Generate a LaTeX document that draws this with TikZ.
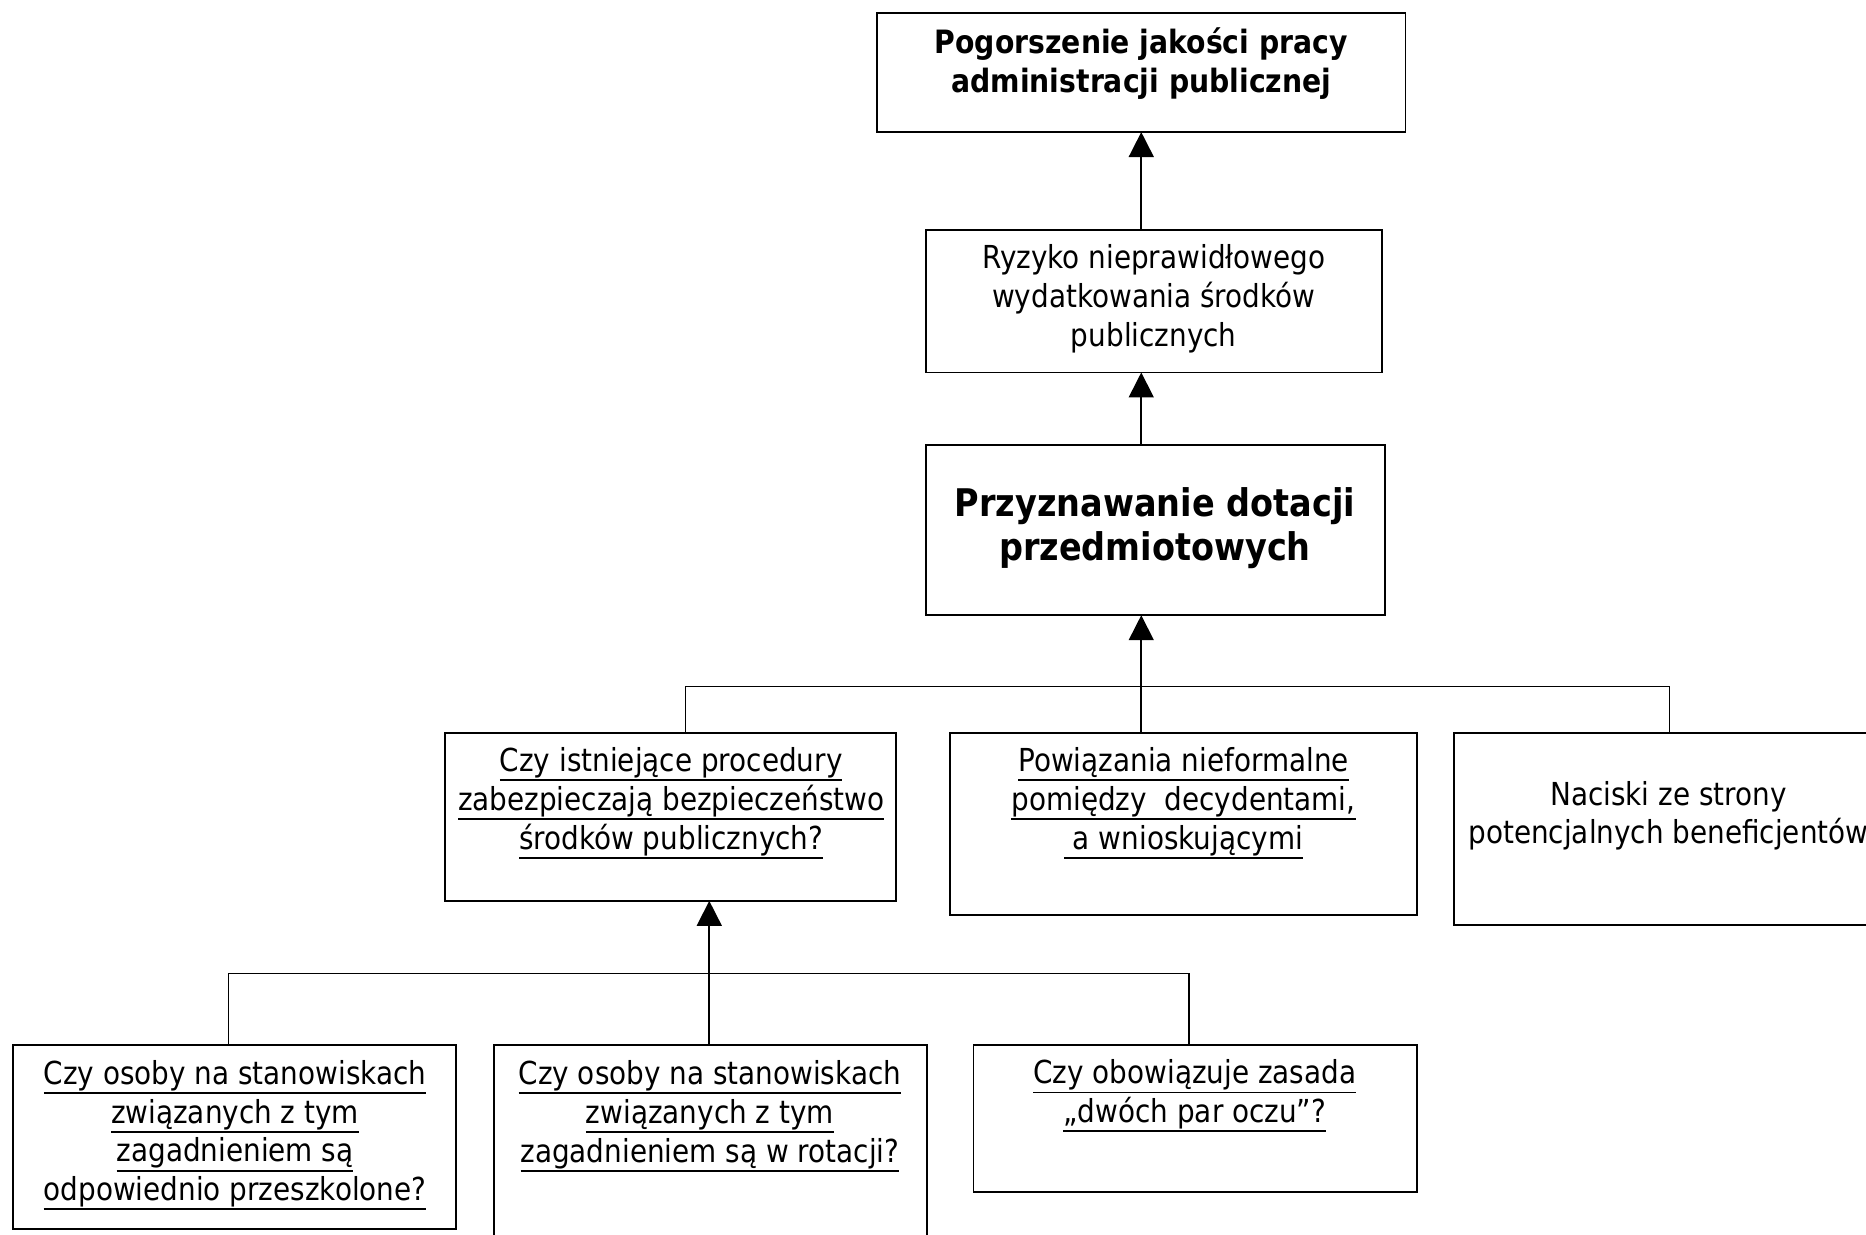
\documentclass[tikz,border=0pt]{standalone}
\usepackage{fontspec}
\setmainfont{DejaVu Sans}[FakeStretch=0.88]
\usetikzlibrary{arrows.meta}
\newcommand{\ulx}[1]{\setbox0\hbox{#1}\rlap{\rule[-4pt]{\wd0}{0.8pt}}\box0}
\begin{document}
\begin{tikzpicture}[x=0.5pt,y=-0.5pt,
  box/.style={draw, line width=0.8pt, rectangle, inner sep=0pt, outer sep=0pt},
  txt/.style={align=center, inner sep=0pt, font=\fontsize{13.3}{16.3}\selectfont},
  conn/.style={line width=0.7pt},
  arr/.style={conn, -{Triangle[length=10.5pt,width=10.5pt]}}]
\useasboundingbox (0,0) rectangle (1568,1037);
\fill[white] (0,0) rectangle (1568,1037);
\clip (0,0) rectangle (1568,1037);
% boxes
\node[box, minimum width=222pt, minimum height=50pt] (A) at (959,61) {};
\node[box, minimum width=191.5pt, minimum height=60pt] (B) at (969.5,253) {};
\node[box, minimum width=193pt, minimum height=71.5pt] (C) at (971,445.5) {};
\node[box, minimum width=189.5pt, minimum height=70.5pt] (D) at (563.5,686.5) {};
\node[box, minimum width=196.5pt, minimum height=76.5pt] (E) at (994.5,692.5) {};
\node[box, minimum width=180pt, minimum height=80.5pt] (F) at (1402,696.5) {};
\node[box, minimum width=186pt, minimum height=77.5pt] (G) at (197,955.5) {};
\node[box, minimum width=182pt, minimum height=91pt] (H) at (597,969) {};
\node[box, minimum width=186.5pt, minimum height=62pt] (I) at (1004.5,940) {};
% texts
\node[txt, font=\fontsize{13.5}{16.5}\selectfont\bfseries] (At) at (959,53.5) {Pogorszenie jakości pracy\\administracji publicznej};
\node[txt] (Bt) at (969.5,251) {Ryzyko nieprawidłowego\\wydatkowania środków\\publicznych};
\node[txt, font=\fontsize{16}{18.5}\selectfont\bfseries] (Ct) at (970.5,443.5) {Przyznawanie dotacji\\przedmiotowych};
\node[txt] (Dt) at (564,675) {\ulx{Czy istniejące procedury}\\\ulx{zabezpieczają bezpieczeństwo}\\\ulx{środków publicznych?}};
\node[txt] (Et) at (994.5,675) {\ulx{Powiązania nieformalne}\\\ulx{pomiędzy\ \ decydentami,}\\\ulx{\ a wnioskującymi}};
\node[txt] (Ft) at (1402,685.5) {Naciski ze strony\\potencjalnych beneficjentów};
\node[txt] (Gt) at (197.5,954) {\ulx{Czy osoby na stanowiskach}\\\ulx{związanych z tym}\\\ulx{zagadnieniem są}\\\ulx{odpowiednio przeszkolone?}};
\node[txt] (Ht) at (596.5,938) {\ulx{Czy osoby na stanowiskach}\\\ulx{związanych z tym}\\\ulx{zagadnieniem są w rotacji?}};
\node[txt] (It) at (1004,921) {\ulx{Czy obowiązuje zasada}\\\ulx{„dwóch par oczu”?}};
% bus coordinates
\coordinate (bD) at (576,577);
\coordinate (bE) at (959,577);
\coordinate (bF) at (1403,577);
\coordinate (bG) at (192,818);
\coordinate (bH) at (596,818);
\coordinate (bI) at (999,818);
% connectors
\draw[arr] (B.north -| A.south) -- (A.south);
\draw[arr] (C.north -| A.south) -- (B.south -| A.south);
\draw[arr] (bE |- E.north) -- (bE |- C.south);
\draw[conn] (bD |- D.north) -- (bD) -- (bF) -- (bF |- F.north);
\draw[arr] (bH |- H.north) -- (bH |- D.south);
\draw[conn] (bG |- G.north) -- (bG) -- (bI) -- (bI |- I.north);
\end{tikzpicture}
\end{document}
